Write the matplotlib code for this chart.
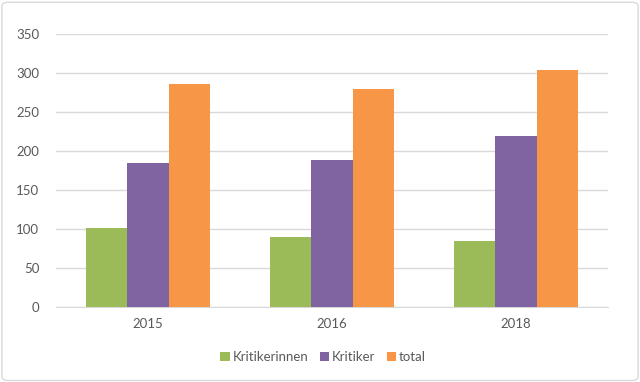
import matplotlib.pyplot as plt
import numpy as np
from matplotlib.patches import FancyBboxPatch

plt.rcParams['font.family'] = ['Lato', 'DejaVu Sans']

years = ['2015', '2016', '2018']
kritikerinnen = [101, 90, 84]
kritiker = [184, 188, 219]
total = [285, 279, 303]

colors = ['#9BBB59', '#8064A2', '#F79646']
labels = ['Kritikerinnen', 'Kritiker', 'total']

fig = plt.figure(figsize=(6.4, 3.82), dpi=100)
ax = fig.add_axes([0.0875, 0.1963, 0.8625, 0.7155])

x = np.arange(len(years))
w = 0.223
for i, (vals, c, lab) in enumerate(zip([kritikerinnen, kritiker, total], colors, labels)):
    ax.bar(x + (i - 1) * w, vals, w, color=c, label=lab, zorder=3)

ax.set_xlim(-0.5, 2.5)
ax.set_ylim(0, 350)
ax.set_yticks(range(0, 351, 50))
ax.set_xticks(x)
ax.set_xticklabels(years)
ax.grid(axis='y', color='#D9D9D9', linewidth=1, zorder=0)
for s in ['top', 'right', 'left']:
    ax.spines[s].set_visible(False)
ax.spines['bottom'].set_color('#D9D9D9')
ax.tick_params(length=0, colors='#595959', labelsize=9.5)
ax.tick_params(axis='y', pad=12)
ax.tick_params(axis='x', pad=8)

fig.legend(loc='center', bbox_to_anchor=(0.505, 0.065), ncol=3, frameon=False,
           handlelength=0.7, handleheight=0.7, handletextpad=0.2, columnspacing=0.9,
           fontsize=9.5, labelcolor='#595959')

border = FancyBboxPatch((0.003, 0.004), 0.994, 0.99, boxstyle='round,pad=0,rounding_size=0.01',
                        transform=fig.transFigure, fill=False, edgecolor='#D9D9D9', linewidth=1)
fig.patches.append(border)

fig.savefig('out.png', dpi=100)
